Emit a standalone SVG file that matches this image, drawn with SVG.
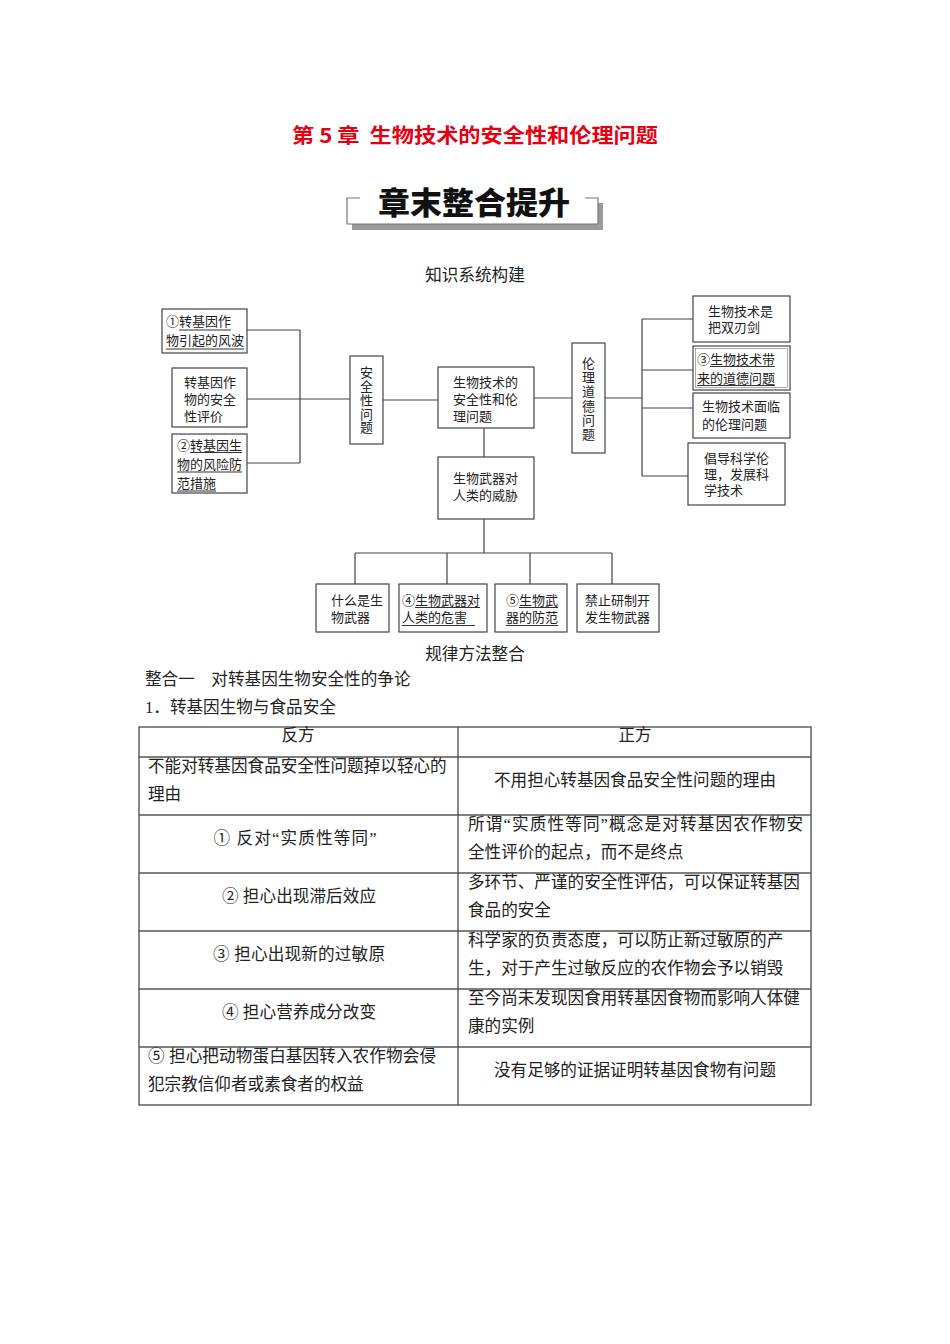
<svg xmlns="http://www.w3.org/2000/svg" width="950" height="1344" viewBox="0 0 950 1344">
<style>
.bx{fill:#fff;stroke:#444;stroke-width:1.2}
.ln{stroke:#444;stroke-width:1.2;fill:none}
.ul{stroke:#333;stroke-width:1}
.t{font-family:"Liberation Serif","Noto Sans CJK SC",serif;font-size:13px;fill:#222}
.tv{font-family:"Liberation Serif","Noto Sans CJK SC",serif;font-size:13px;fill:#222;text-anchor:middle}
.tb{font-family:"Liberation Serif","Noto Sans CJK SC",serif;font-size:16.6px;fill:#222}
.tc{font-family:"Liberation Serif","Noto Sans CJK SC",serif;font-size:16.6px;fill:#222;text-anchor:middle}
.cj{font-family:"Noto Sans CJK SC",sans-serif}
.grid{stroke:#555;stroke-width:1.4;fill:none}
</style>
<rect width="950" height="1344" fill="#fff"/>

<!-- Title -->
<text x="475" y="143" text-anchor="middle" xml:space="preserve" font-family="'Noto Sans CJK SC','Liberation Sans',sans-serif" font-weight="bold" font-size="20" fill="#e60012" textLength="366" lengthAdjust="spacingAndGlyphs">第 5 章  生物技术的安全性和伦理问题</text>

<!-- Banner -->
<g id="banner">
<rect x="352" y="203" width="251" height="27" fill="#9a9a9a"/>
<rect x="347" y="198" width="251" height="26" fill="#fff"/>
<path d="M360 198 H347 V224 H598 V198 H585" fill="none" stroke="#777" stroke-width="1.2"/>
<text x="474" y="214" text-anchor="middle" font-family="'Noto Sans CJK SC',serif" font-weight="900" font-size="31" fill="#111" textLength="192" lengthAdjust="spacingAndGlyphs">章末整合提升</text>
</g>

<text x="475" y="281" class="tc" font-size="15.5">知识系统构建</text>

<!-- Connectors -->
<g id="connectors">
<path class="ln" d="M247 330 H300 M247 399 H300 M247 463 H300 M300 330 V463 M300 399 H350"/>
<path class="ln" d="M383 400 H438"/>
<path class="ln" d="M534 398 H572"/>
<path class="ln" d="M605 398 H642 M642 319 V476 M642 319 H693 M642 370 H693 M642 408 H693 M642 476 H688"/>
<path class="ln" d="M484 428 V457 M484 519 V553 M355 553 H612 M355 553 V584 M447 553 V584 M530 553 V584 M612 553 V584"/>
</g>

<!-- Left nodes -->
<g id="n-fengbo">
<rect class="bx" x="162" y="309" width="85" height="44"/>
<text class="t" x="166" y="326" textLength="65" lengthAdjust="spacing"><tspan class="cj">①</tspan>转基因作</text>
<text class="t" x="166" y="345">物引起的风波</text>
<line class="ul" x1="179" y1="330" x2="231" y2="330"/>
<line class="ul" x1="166" y1="349" x2="244" y2="349"/>
</g>
<g id="n-pingjia">
<rect class="bx" x="172" y="368" width="75" height="59"/>
<text class="t" x="184" y="387">转基因作</text>
<text class="t" x="184" y="404">物的安全</text>
<text class="t" x="184" y="421">性评价</text>
</g>
<g id="n-fangfan">
<rect class="bx" x="172" y="434" width="75" height="59"/>
<text class="t" x="177" y="449.5" textLength="65" lengthAdjust="spacing"><tspan class="cj">②</tspan>转基因生</text>
<text class="t" x="177" y="469">物的风险防</text>
<text class="t" x="177" y="488">范措施</text>
<line class="ul" x1="190" y1="452.5" x2="242" y2="452.5"/>
<line class="ul" x1="177" y1="472" x2="242" y2="472"/>
<line class="ul" x1="177" y1="491" x2="216" y2="491"/>
</g>

<!-- Middle nodes -->
<g id="n-anquan">
<rect class="bx" x="350" y="356" width="33" height="88"/>
<text class="tv" x="366.5" y="376.5">安</text>
<text class="tv" x="366.5" y="390.5">全</text>
<text class="tv" x="366.5" y="404.5">性</text>
<text class="tv" x="366.5" y="418.5">问</text>
<text class="tv" x="366.5" y="432">题</text>
</g>
<g id="n-center">
<rect class="bx" x="438" y="367" width="96" height="61"/>
<text class="t" x="453" y="387">生物技术的</text>
<text class="t" x="453" y="404">安全性和伦</text>
<text class="t" x="453" y="421">理问题</text>
</g>
<g id="n-lunli">
<rect class="bx" x="572" y="343" width="33" height="110"/>
<text class="tv" x="588.5" y="367.5">伦</text>
<text class="tv" x="588.5" y="381.5">理</text>
<text class="tv" x="588.5" y="396">道</text>
<text class="tv" x="588.5" y="410.5">德</text>
<text class="tv" x="588.5" y="424.5">问</text>
<text class="tv" x="588.5" y="438.5">题</text>
</g>
<g id="n-weixie">
<rect class="bx" x="438" y="457" width="96" height="62"/>
<text class="t" x="453" y="483">生物武器对</text>
<text class="t" x="453" y="500">人类的威胁</text>
</g>

<!-- Right nodes -->
<g id="n-shuangren">
<rect class="bx" x="693" y="296" width="97" height="46"/>
<text class="t" x="708" y="316">生物技术是</text>
<text class="t" x="708" y="332">把双刃剑</text>
</g>
<g id="n-daode">
<rect class="bx" x="693" y="346" width="97" height="44"/>
<rect x="695.5" y="348.5" width="92" height="39" fill="none" stroke="#888" stroke-width="0.7"/>
<text class="t" x="697" y="363.5" textLength="78" lengthAdjust="spacing"><tspan class="cj">③</tspan>生物技术带</text>
<text class="t" x="697" y="382.5">来的道德问题</text>
<line class="ul" x1="710" y1="366.5" x2="775" y2="366.5"/>
<line class="ul" x1="697" y1="385.5" x2="775" y2="385.5"/>
</g>
<g id="n-mianlin">
<rect class="bx" x="693" y="393" width="97" height="45"/>
<text class="t" x="702" y="411">生物技术面临</text>
<text class="t" x="702" y="429">的伦理问题</text>
</g>
<g id="n-changdao">
<rect class="bx" x="688" y="443" width="97" height="62"/>
<text class="t" x="704" y="463">倡导科学伦</text>
<text class="t" x="704" y="479">理，发展科</text>
<text class="t" x="704" y="495">学技术</text>
</g>

<!-- Bottom nodes -->
<g id="n-shenme">
<rect class="bx" x="316" y="584" width="73" height="48"/>
<text class="t" x="331" y="604.5">什么是生</text>
<text class="t" x="331" y="621.5">物武器</text>
</g>
<g id="n-weihai">
<rect class="bx" x="399" y="584" width="88" height="48"/>
<text class="t" x="402" y="604.5" textLength="78" lengthAdjust="spacing"><tspan class="cj">④</tspan>生物武器对</text>
<text class="t" x="402" y="622">人类的危害</text>
<line class="ul" x1="415" y1="607.5" x2="480" y2="607.5"/>
<line class="ul" x1="402" y1="625.5" x2="475" y2="625.5"/>
</g>
<g id="n-fangfan2">
<rect class="bx" x="495" y="584" width="72" height="48"/>
<text class="t" x="506" y="604.5" textLength="52" lengthAdjust="spacing"><tspan class="cj">⑤</tspan>生物武</text>
<text class="t" x="506" y="622">器的防范</text>
<line class="ul" x1="519" y1="607.5" x2="558" y2="607.5"/>
<line class="ul" x1="506" y1="625.5" x2="558" y2="625.5"/>
</g>
<g id="n-jinzhi">
<rect class="bx" x="577" y="584" width="82" height="48"/>
<text class="t" x="585" y="604.5">禁止研制开</text>
<text class="t" x="585" y="622">发生物武器</text>
</g>

<!-- Section texts -->
<text class="tc" x="475" y="660" font-size="16">规律方法整合</text>
<text class="tb" x="145" y="685">整合一　对转基因生物安全性的争论</text>
<text class="tb" x="145" y="713">1．转基因生物与食品安全</text>

<!-- Table -->
<g id="table">
<rect class="grid" x="139" y="727" width="672" height="378"/>
<path class="grid" d="M458 727 V1105 M139 757 H811 M139 815 H811 M139 873 H811 M139 931 H811 M139 989 H811 M139 1047 H811"/>
<text class="tc" x="298" y="741">反方</text>
<text class="tc" x="635" y="741">正方</text>

<text class="tb" x="148" y="772">不能对转基因食品安全性问题掉以轻心的</text>
<text class="tb" x="148" y="800">理由</text>
<text class="tc" x="635" y="786">不用担心转基因食品安全性问题的理由</text>

<text class="tc" x="295" y="844" textLength="163" lengthAdjust="spacing"><tspan class="cj">①</tspan> 反对“实质性等同”</text>
<text class="tb" x="468" y="830" textLength="335" lengthAdjust="spacing">所谓“实质性等同”概念是对转基因农作物安</text>
<text class="tb" x="468" y="858">全性评价的起点，而不是终点</text>

<text class="tc" x="299" y="902" textLength="154" lengthAdjust="spacing"><tspan class="cj">②</tspan> 担心出现滞后效应</text>
<text class="tb" x="468" y="888">多环节、严谨的安全性评估，可以保证转基因</text>
<text class="tb" x="468" y="916">食品的安全</text>

<text class="tc" x="299" y="960" textLength="172" lengthAdjust="spacing"><tspan class="cj">③</tspan> 担心出现新的过敏原</text>
<text class="tb" x="468" y="946">科学家的负责态度，可以防止新过敏原的产</text>
<text class="tb" x="468" y="974">生，对于产生过敏反应的农作物会予以销毁</text>

<text class="tc" x="299" y="1018" textLength="154" lengthAdjust="spacing"><tspan class="cj">④</tspan> 担心营养成分改变</text>
<text class="tb" x="468" y="1004">至今尚未发现因食用转基因食物而影响人体健</text>
<text class="tb" x="468" y="1032">康的实例</text>

<text class="tb" x="148" y="1062" textLength="288" lengthAdjust="spacing"><tspan class="cj">⑤</tspan> 担心把动物蛋白基因转入农作物会侵</text>
<text class="tb" x="148" y="1090">犯宗教信仰者或素食者的权益</text>
<text class="tc" x="635" y="1076">没有足够的证据证明转基因食物有问题</text>
</g>
</svg>
